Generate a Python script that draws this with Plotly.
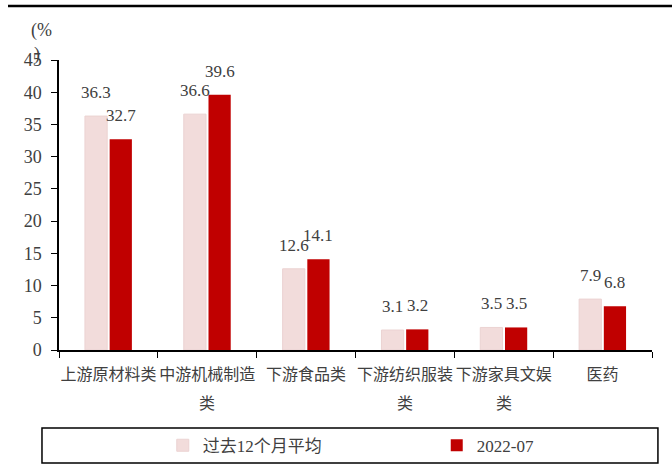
import plotly.graph_objects as go

categories = ["上游原材料类", "中游机械制造类", "下游食品类", "下游纺织服装类", "下游家具文娱类", "医药"]
tick_first = ["上游原材料类", "中游机械制造", "下游食品类", "下游纺织服装", "下游家具文娱", "医药"]
tick_second = ["", "类", "", "类", "类", ""]
avg_12m = [36.3, 36.6, 12.6, 3.1, 3.5, 7.9]
jul_2022 = [32.7, 39.6, 14.1, 3.2, 3.5, 6.8]
series_names = ["过去12个月平均", "2022-07"]
y_ticks = [0, 5, 10, 15, 20, 25, 30, 35, 40, 45]

FONT = "Liberation Serif, Times New Roman, Noto Sans CJK SC, serif"
TXT = "#404040"
BARGAP = 0.5
OFFSET = (1 - BARGAP) / 4  # centre offset of each bar within its category

fig = go.Figure()
fig.add_trace(go.Bar(
    x=categories, y=avg_12m, name=series_names[0], legend="legend",
    marker=dict(color="#F2DCDB", line=dict(color="#EBD3D2", width=1)),
))
fig.add_trace(go.Bar(
    x=categories, y=jul_2022, name=series_names[1], legend="legend2",
    marker=dict(color="#C00000", line=dict(color="#C00000", width=0)),
))

annotations = []
for i, (a, b) in enumerate(zip(avg_12m, jul_2022)):
    for val, off in ((a, -OFFSET), (b, OFFSET)):
        annotations.append(dict(
            x=i + off, y=val, xref="x", yref="y", text=f"{val:.1f}", showarrow=False,
            xanchor="center", yanchor="bottom", yshift=12,
            font=dict(family=FONT, size=17, color=TXT)))
for i, t in enumerate(tick_second):
    if t:
        annotations.append(dict(
            x=i, y=-0.183, xref="x", yref="paper", text=t, showarrow=False,
            xanchor="center", yanchor="middle", font=dict(family=FONT, size=16, color=TXT)))
annotations += [
    dict(text="(%", xref="paper", yref="paper", x=-0.030, y=1.10, showarrow=False,
         xanchor="center", yanchor="middle", font=dict(family=FONT, size=18, color=TXT)),
    dict(text=")", xref="paper", yref="paper", x=-0.037, y=1.018, showarrow=False,
         xanchor="center", yanchor="middle", font=dict(family=FONT, size=18, color=TXT)),
]

leg_common = dict(orientation="h", yanchor="middle", xanchor="left",
                  font=dict(family=FONT, size=17, color=TXT),
                  bgcolor="rgba(0,0,0,0)", itemclick=False)

fig.update_layout(
    width=672, height=469,
    margin=dict(l=59, r=20, t=60, b=119, autoexpand=False),
    paper_bgcolor="white", plot_bgcolor="white",
    barmode="group", bargap=BARGAP, bargroupgap=0.1,
    font=dict(family=FONT, size=16, color=TXT),
    showlegend=True,
    legend=dict(x=0.175, y=-0.33, **leg_common),
    legend2=dict(x=0.637, y=-0.33, **leg_common),
    xaxis=dict(
        tickmode="array", tickvals=categories, ticktext=tick_first, tickangle=0,
        automargin=False, ticklabelstandoff=9,
        showline=True, linecolor="black", linewidth=1.5,
        ticks="outside", tickson="boundaries", ticklen=6, tickcolor="black",
        showgrid=False, tickfont=dict(family=FONT, size=16, color=TXT),
    ),
    yaxis=dict(
        range=[0, 45], tickmode="array", tickvals=y_ticks, automargin=False,
        ticklabelstandoff=6,
        showline=True, linecolor="black", linewidth=1.5,
        ticks="outside", ticklen=6, tickcolor="black",
        showgrid=False, zeroline=False,
        tickfont=dict(family=FONT, size=18, color=TXT),
    ),
    shapes=[
        dict(type="line", xref="paper", yref="paper", x0=-0.086, x1=1.04, y0=1.186, y1=1.186,
             line=dict(color="black", width=2.5)),
        dict(type="rect", xref="paper", yref="paper", x0=-0.0287, x1=1.010, y0=-0.269, y1=-0.390,
             line=dict(color="black", width=1.5)),
    ],
    annotations=annotations,
)

fig.write_html("out.html", config={"displayModeBar": False},
               post_script="document.body.style.margin='0';")
